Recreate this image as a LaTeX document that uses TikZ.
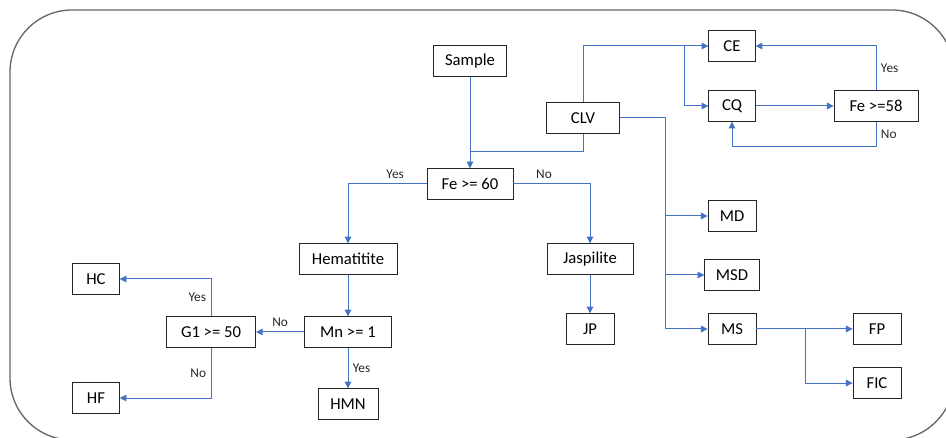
\documentclass[tikz,border=0pt]{standalone}
\usepackage{fontspec}
\setmainfont{Carlito}
\usetikzlibrary{arrows.meta}
\definecolor{lineblue}{RGB}{68,114,196}
\tikzset{
    box/.style={draw=black!85, line width=0.6pt, minimum height=23pt, inner sep=2pt, font=\fontsize{12.5}{14}\selectfont},
    link/.style={draw=lineblue, line width=0.75pt},
    arr/.style={link, -{Triangle[length=5pt,width=5pt]}},
    lab/.style={font=\fontsize{10}{12}\selectfont, text=black!85}
}

\begin{document}
\begin{tikzpicture}[x=0.75pt,y=-0.75pt]
    \useasboundingbox (0,0) rectangle (946,438);
    \begin{scope}
        \clip (0,0) rectangle (946,438);
        \draw[black!60, line width=1pt, rounded corners=46.5pt] (10,10) rectangle (954,440);
    \end{scope}

    \node[box, minimum width=55pt] (sample) at (470,61) {Sample};
    \node[box, minimum width=55pt] (clv) at (583,118) {CLV};
    \node[box, minimum width=35pt] (ce) at (732,46) {CE};
    \node[box, minimum width=35pt] (cq) at (732,106) {CQ};
    \node[box, minimum width=63pt] (fe58) at (876,106) {Fe >=58};

    \node[box, minimum width=64.5pt] (fe60) at (470,184) {Fe >= 60};
    \node[box, minimum width=73.5pt] (hema) at (348,259) {Hematitite};
    \node[box, minimum width=64.5pt] (jasp) at (590,259) {Jaspilite};
    \node[box, minimum width=36pt] (jp) at (590,329) {JP};

    \node[box, minimum width=65pt] (mn) at (348,332) {Mn >= 1};
    \node[box, minimum width=45pt] (hmn) at (348,404) {HMN};
    \node[box, minimum width=67pt] (g1) at (211,332) {G1 >= 50};
    \node[box, minimum width=35pt] (hc) at (96,279) {HC};
    \node[box, minimum width=35pt] (hf) at (96,398) {HF};

    \node[box, minimum width=36pt] (md) at (732,216) {MD};
    \node[box, minimum width=41pt] (msd) at (732,275) {MSD};
    \node[box, minimum width=36pt] (ms) at (732,329) {MS};
    \node[box, minimum width=36pt] (fp) at (877,329) {FP};
    \node[box, minimum width=36pt] (fic) at (877,383) {FIC};

    \coordinate (join) at (470,152);
    \coordinate (splitCE) at (684,46);
    \coordinate (loopNo) at (876,147);
    \coordinate (busM) at (665,118);
    \coordinate (splitMS) at (805,329);

    % top part
    \draw[arr] (sample) -- (fe60);
    \draw[link] (clv.south) |- (join);
    \draw[arr] (clv.north) |- (ce.west);
    \draw[arr] (splitCE) |- (cq.west);
    \draw[arr] (cq) -- (fe58);
    \draw[arr] (fe58.north) |- (ce.east) node[lab, pos=0.25, right] {Yes};
    \draw[arr] (fe58.south) -- (loopNo) node[lab, midway, right] {No} -| (cq.south);

    % right branch
    \draw[arr] (clv.east) -- (busM) |- (ms.west);
    \draw[arr] (busM |- md.west) -- (md.west);
    \draw[arr] (busM |- msd.west) -- (msd.west);
    \draw[arr] (ms) -- (fp);
    \draw[arr] (splitMS) |- (fic.west);

    % decision tree
    \draw[arr] (fe60.west) -| (hema.north) node[lab, pos=0.2, above] {Yes};
    \draw[arr] (fe60.east) -| (jasp.north) node[lab, pos=0.2, above] {No};
    \draw[arr] (jasp) -- (jp);
    \draw[arr] (hema) -- (mn);
    \draw[arr] (mn) -- (g1) node[lab, midway, above] {No};
    \draw[arr] (mn) -- (hmn) node[lab, midway, right] {Yes};
    \draw[arr] (g1.north) |- (hc.east) node[lab, pos=0.25, left] {Yes};
    \draw[arr] (g1.south) |- (hf.east) node[lab, pos=0.25, left] {No};
\end{tikzpicture}
\end{document}
